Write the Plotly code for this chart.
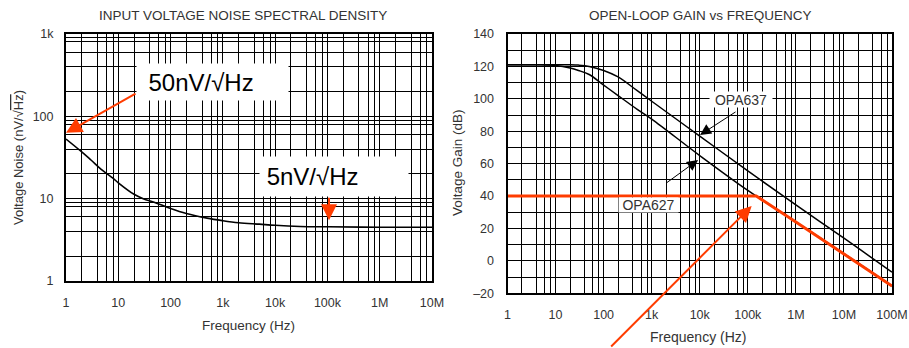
import plotly.graph_objects as go

# ---------------- data ----------------
# Left: input voltage noise spectral density
noise_freq = [1, 2, 3, 5, 8, 10, 20, 30, 50, 100, 200, 500, 1e3, 2e3, 5e3, 1e4, 3e4, 1e5, 1e6, 1e7]
noise_nv = [53, 37, 29.5, 22, 17.6, 15.6, 11.3, 10, 9, 7.6, 6.6, 5.8, 5.4, 5.1, 4.9, 4.75, 4.6, 4.55, 4.5, 4.5]

# Right: open-loop gain vs frequency
gain_freq = [1, 3, 5, 10, 20, 30, 50, 100, 200, 500, 1e3, 1e4, 1e5, 1e6, 1e7, 1e8]
opa637_db = [121, 121, 121, 121, 121, 120.8, 120, 117.5, 113.5, 105, 98.5, 77, 55.5, 34.5, 14, -7]
opa627_db = [121, 121, 121, 120.5, 119, 117.5, 115, 108.5, 102, 93.5, 87.5, 65, 43.5, 24, 4.5, -15.5]
red_freq = [1, 1.5e5, 1e6, 1e7, 1e8]
red_db = [40, 40, 24, 4.5, -15.5]

left_xticks = [1, 10, 100, 1e3, 1e4, 1e5, 1e6, 1e7]
left_xlabels = ["1", "10", "100", "1k", "10k", "100k", "1M", "10M"]
left_yticks = [1, 10, 100, 1000]
left_ylabels = ["1", "10", "100", "1k"]
right_xticks = [1, 10, 100, 1e3, 1e4, 1e5, 1e6, 1e7, 1e8]
right_xlabels = ["1", "10", "100", "1k", "10k", "100k", "1M", "10M", "100M"]
right_yticks = [140, 120, 100, 80, 60, 40, 20, 0, -20]
right_ylabels = ["140", "120", "100", "80", "60", "40", "20", "0", "\u201320"]

# ---------------- layout helpers ----------------
W, H = 909, 348
def px(x):
    return x / W
def py(y):
    return 1 - y / H

FONT = "Arial, Liberation Sans, sans-serif"
GRAY = "#333333"
RED = "#ff3c00"

x_minor_left = [m * 10 ** d for d in range(0, 7) for m in (2, 4, 6, 8)]
y_minor_left = [m * 10 ** d for d in range(0, 3) for m in (2, 4, 6, 8, 9)]
x_minor_right = [m * 10 ** d for d in range(0, 8) for m in (2, 4, 6, 8)]
y_minor_right = [v for v in range(-10, 140, 20)]

fig = go.Figure()
fig.add_trace(go.Scatter(x=noise_freq, y=noise_nv, mode="lines", line=dict(color="black", width=1.6, shape="spline"),
                         xaxis="x", yaxis="y", hoverinfo="skip"))
fig.add_trace(go.Scatter(x=gain_freq, y=opa637_db, mode="lines", line=dict(color="black", width=1.5, shape="spline"),
                         xaxis="x2", yaxis="y2", hoverinfo="skip"))
fig.add_trace(go.Scatter(x=gain_freq, y=opa627_db, mode="lines", line=dict(color="black", width=1.5, shape="spline"),
                         xaxis="x2", yaxis="y2", hoverinfo="skip"))
fig.add_trace(go.Scatter(x=red_freq, y=red_db, mode="lines", line=dict(color=RED, width=3),
                         xaxis="x2", yaxis="y2", hoverinfo="skip"))

axis_common = dict(showgrid=True, gridcolor="black", gridwidth=1, showline=True, linecolor="black",
                   linewidth=2, mirror=True, zeroline=False, ticks="outside", automargin=False,
                   tickcolor="rgba(0,0,0,0)", tickfont=dict(family=FONT, size=12.5, color=GRAY))

fig.update_layout(
    width=W, height=H, margin=dict(l=0, r=0, t=0, b=0, pad=0, autoexpand=False),
    paper_bgcolor="white", plot_bgcolor="white", showlegend=False,
    xaxis=dict(type="log", domain=[px(66), px(432)], range=[0, 7], anchor="y",
               tickmode="array", tickvals=left_xticks, ticktext=left_xlabels, ticklen=9,
               minor=dict(tickmode="array", tickvals=x_minor_left, showgrid=True, gridcolor="black", gridwidth=1, ticks=""),
               **axis_common),
    yaxis=dict(type="log", domain=[py(281), py(34)], range=[0, 3], anchor="x",
               tickmode="array", tickvals=left_yticks, ticktext=left_ylabels, ticklen=8,
               minor=dict(tickmode="array", tickvals=y_minor_left, showgrid=True, gridcolor="black", gridwidth=1, ticks=""),
               **axis_common),
    xaxis2=dict(type="log", domain=[px(507.5), px(892)], range=[0, 8], anchor="y2",
                tickmode="array", tickvals=right_xticks, ticktext=right_xlabels, ticklen=9,
                minor=dict(tickmode="array", tickvals=x_minor_right, showgrid=True, gridcolor="black", gridwidth=1, ticks=""),
                **axis_common),
    yaxis2=dict(domain=[py(293.3), py(34)], range=[-20, 140], anchor="x2",
                tickmode="array", tickvals=right_yticks, ticktext=right_ylabels, ticklen=9,
                minor=dict(tickmode="array", tickvals=y_minor_right, showgrid=True, gridcolor="black", gridwidth=1, ticks=""),
                **axis_common),
)

C = dict(xanchor="center", yanchor="middle")
ann = []
# titles
ann.append(dict(text="INPUT VOLTAGE NOISE SPECTRAL DENSITY", x=px(243), y=py(16), xref="paper", yref="paper",
                showarrow=False, font=dict(family=FONT, size=13.5, color=GRAY), **C))
ann.append(dict(text="OPEN-LOOP GAIN vs FREQUENCY", x=px(700), y=py(15), xref="paper", yref="paper",
                showarrow=False, font=dict(family=FONT, size=13.5, color=GRAY), **C))
# axis titles
ann.append(dict(text="Frequency (Hz)", x=px(249), y=py(325), xref="paper", yref="paper",
                showarrow=False, font=dict(family=FONT, size=13.5, color=GRAY), **C))
ann.append(dict(text="Frequency (Hz)", x=px(698), y=py(337), xref="paper", yref="paper",
                showarrow=False, font=dict(family=FONT, size=14, color=GRAY), **C))
ann.append(dict(text="Voltage Noise (nV/\u221a<span style=\"text-decoration:overline\">Hz</span>)", x=px(18), y=py(158),
                xref="paper", yref="paper", textangle=-90,
                showarrow=False, font=dict(family=FONT, size=13, color=GRAY), **C))
ann.append(dict(text="Voltage Gain (dB)", x=px(457), y=py(163), xref="paper", yref="paper", textangle=-90,
                showarrow=False, font=dict(family=FONT, size=13.5, color=GRAY), **C))

# left chart callouts
ann.append(dict(text="\u00a0\u200950nV/\u221aHz", x=2.80, y=2.416, xref="x", yref="y", showarrow=False,
                align="left", width=151, height=36, borderpad=0, bgcolor="white",
                font=dict(family=FONT, size=24, color="black"), **C))
ann.append(dict(text="", x=0, y=1.80, xref="x", yref="y", ax=71, ay=-40, axref="pixel", ayref="pixel",
                showarrow=True, arrowcolor=RED, arrowwidth=2, arrowhead=2, arrowsize=1.6))
ann.append(dict(text="\u00a05nV/\u221aHz", x=5.124, y=1.266, xref="x", yref="y", showarrow=False,
                align="left", width=148, height=39, borderpad=0, bgcolor="white",
                font=dict(family=FONT, size=24, color="black"), **C))
ann.append(dict(text="", x=5.03, y=0.737, xref="x", yref="y", ax=0, ay=-24, axref="pixel", ayref="pixel",
                showarrow=True, arrowcolor=RED, arrowwidth=2, arrowhead=2, arrowsize=1.6))

# right chart callouts
ann.append(dict(text="OPA637", x=4.859, y=99.6, xref="x2", yref="y2", showarrow=False,
                width=62, height=15, borderpad=0, bgcolor="white",
                font=dict(family=FONT, size=14, color=GRAY), **C))
ann.append(dict(text="", x=4.006, y=77.7, xref="x2", yref="y2", ax=37, ay=-24, axref="pixel", ayref="pixel",
                showarrow=True, arrowcolor="black", arrowwidth=1, arrowhead=2, arrowsize=2.2))
ann.append(dict(text="OPA627", x=2.936, y=34.2, xref="x2", yref="y2", showarrow=False,
                width=59, height=14, borderpad=0, bgcolor="white",
                font=dict(family=FONT, size=14, color=GRAY), **C))
ann.append(dict(text="", x=3.965, y=62.3, xref="x2", yref="y2", ax=-33, ay=24, axref="pixel", ayref="pixel",
                showarrow=True, arrowcolor="black", arrowwidth=1, arrowhead=2, arrowsize=2.2))
ann.append(dict(text="", x=5.08, y=33.9, xref="x2", yref="y2", ax=-142, ay=142, axref="pixel", ayref="pixel",
                showarrow=True, arrowcolor=RED, arrowwidth=2, arrowhead=2, arrowsize=1.6))

fig.update_layout(annotations=ann)
fig.write_html("out.html", config={"displayModeBar": False},
               post_script="document.body.style.margin='0';document.body.style.overflow='hidden';")
